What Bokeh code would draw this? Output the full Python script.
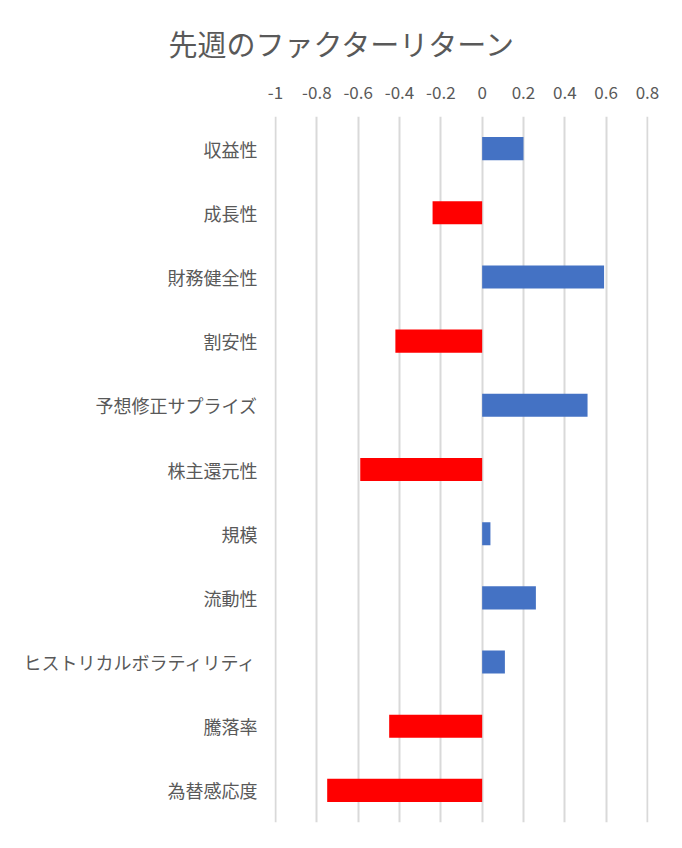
from bokeh.plotting import figure
from bokeh.models import FixedTicker, ColumnDataSource
from bokeh.embed import file_html
from bokeh.resources import INLINE

title_text = "先週のファクターリターン"
categories = ["収益性", "成長性", "財務健全性", "割安性", "予想修正サプライズ",
              "株主還元性", "規模", "流動性", "ヒストリカルボラティリティ",
              "騰落率", "為替感応度"]
values = [0.20, -0.24, 0.59, -0.42, 0.51, -0.59, 0.04, 0.26, 0.11, -0.45, -0.75]
x_ticks = [-1, -0.8, -0.6, -0.4, -0.2, 0, 0.2, 0.4, 0.6, 0.8]
x_tick_labels = ["-1", "-0.8", "-0.6", "-0.4", "-0.2", "0", "0.2", "0.4", "0.6", "0.8"]

POS = "#4472C4"
NEG = "#FF0000"
TXT = "#595959"
FONT = "Noto Sans CJK JP"

colors = [POS if v >= 0 else NEG for v in values]
src = ColumnDataSource(dict(cat=categories, val=values, color=colors))

p = figure(
    y_range=list(reversed(categories)),
    x_range=(-1.005, 0.805),
    frame_width=374, frame_height=706,
    min_border_left=274, min_border_right=18,
    min_border_top=116, min_border_bottom=10,
    x_axis_location="above",
    output_backend="svg", toolbar_location=None,
    title=title_text,
)
p.hbar(y="cat", left=0, right="val", height=0.36, color="color",
       line_color=None, source=src)

p.outline_line_color = None
p.background_fill_color = "white"
p.border_fill_color = "white"

p.title.text_font = FONT
p.title.text_font_size = "29px"
p.title.text_font_style = "normal"
p.title.text_color = TXT
p.title.align = "left"
p.title.offset = -106
p.title.standoff = 37

xa = p.xaxis[0]
xa.ticker = FixedTicker(ticks=x_ticks)
xa.major_label_overrides = {t: s for t, s in zip(x_ticks, x_tick_labels)}
xa.axis_line_color = None
xa.major_tick_line_color = None
xa.minor_tick_line_color = None
xa.major_tick_out = 0
xa.major_tick_in = 0
xa.major_label_standoff = 18
xa.major_label_text_font = FONT
xa.major_label_text_font_size = "17px"
xa.major_label_text_color = TXT

ya = p.yaxis[0]
ya.axis_line_color = None
ya.major_tick_line_color = None
ya.minor_tick_line_color = None
ya.major_tick_out = 0
ya.major_tick_in = 0
ya.major_label_standoff = 17
ya.major_label_text_font = FONT
ya.major_label_text_font_size = "18px"
ya.major_label_text_color = TXT

p.xgrid.grid_line_color = "#d9d9d9"
p.xgrid.grid_line_width = 2
p.ygrid.grid_line_color = None

open("out.html", "w").write(file_html(p, INLINE))
